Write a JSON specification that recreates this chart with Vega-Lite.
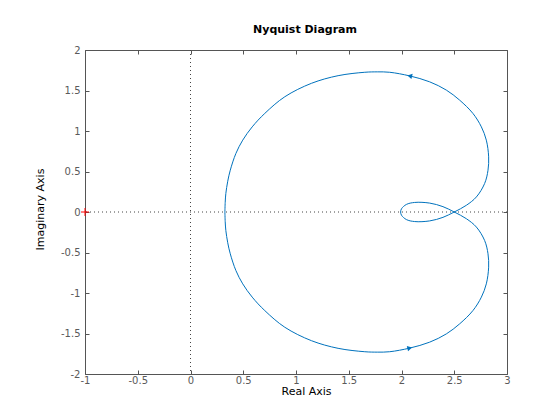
{
  "$schema": "https://vega.github.io/schema/vega-lite/v6.json",
  "width": 422,
  "height": 324,
  "autosize": "none",
  "padding": {"left": 85, "top": 50, "right": 53, "bottom": 46},
  "background": "white",
  "title": {"text": "Nyquist Diagram", "font": "DejaVu Sans", "fontSize": 11, "fontWeight": "bold", "color": "#000", "anchor": "middle", "dx": 9, "offset": 10},
  "datasets": {
    "curve": [
      {"i":0,"x":0.326,"y":0.0},{"i":1,"x":0.329,"y":0.12},{"i":2,"x":0.335,"y":0.228},{"i":3,"x":0.353,"y":0.38},{"i":4,"x":0.377,"y":0.516},
      {"i":5,"x":0.43,"y":0.722},{"i":6,"x":0.495,"y":0.887},{"i":7,"x":0.585,"y":1.051},{"i":8,"x":0.704,"y":1.217},{"i":9,"x":0.894,"y":1.423},
      {"i":10,"x":1.147,"y":1.589},{"i":11,"x":1.399,"y":1.683},{"i":12,"x":1.652,"y":1.725},{"i":13,"x":1.77,"y":1.73},{"i":14,"x":1.888,"y":1.725},
      {"i":15,"x":2.078,"y":1.68},{"i":16,"x":2.267,"y":1.607},{"i":17,"x":2.425,"y":1.505},{"i":18,"x":2.551,"y":1.381},{"i":19,"x":2.677,"y":1.217},
      {"i":20,"x":2.757,"y":1.051},{"i":21,"x":2.804,"y":0.887},{"i":22,"x":2.826,"y":0.681},{"i":23,"x":2.82,"y":0.516},{"i":24,"x":2.788,"y":0.352},
      {"i":25,"x":2.71,"y":0.186},{"i":26,"x":2.615,"y":0.083},{"i":27,"x":2.5,"y":0.0},{"i":28,"x":2.393,"y":-0.066},{"i":29,"x":2.267,"y":-0.11},
      {"i":30,"x":2.125,"y":-0.118},{"i":31,"x":2.046,"y":-0.093},{"i":32,"x":2.0,"y":-0.04},{"i":33,"x":1.992,"y":0.0},
      {"i":34,"x":2.0,"y":0.04},{"i":35,"x":2.046,"y":0.093},{"i":36,"x":2.125,"y":0.118},{"i":37,"x":2.267,"y":0.11},{"i":38,"x":2.393,"y":0.066},
      {"i":39,"x":2.5,"y":0.0},{"i":40,"x":2.615,"y":-0.083},{"i":41,"x":2.71,"y":-0.186},{"i":42,"x":2.788,"y":-0.352},{"i":43,"x":2.82,"y":-0.516},
      {"i":44,"x":2.826,"y":-0.681},{"i":45,"x":2.804,"y":-0.887},{"i":46,"x":2.757,"y":-1.051},{"i":47,"x":2.677,"y":-1.217},{"i":48,"x":2.551,"y":-1.381},
      {"i":49,"x":2.425,"y":-1.505},{"i":50,"x":2.267,"y":-1.607},{"i":51,"x":2.078,"y":-1.68},{"i":52,"x":1.888,"y":-1.725},{"i":53,"x":1.77,"y":-1.73},
      {"i":54,"x":1.652,"y":-1.725},{"i":55,"x":1.399,"y":-1.683},{"i":56,"x":1.147,"y":-1.589},{"i":57,"x":0.894,"y":-1.423},{"i":58,"x":0.704,"y":-1.217},
      {"i":59,"x":0.585,"y":-1.051},{"i":60,"x":0.495,"y":-0.887},{"i":61,"x":0.43,"y":-0.722},{"i":62,"x":0.377,"y":-0.516},{"i":63,"x":0.353,"y":-0.38},
      {"i":64,"x":0.335,"y":-0.228},{"i":65,"x":0.329,"y":-0.12},{"i":66,"x":0.326,"y":0.0}
    ],
    "arrows": [
      {"branch":"upper","x":2.078,"y":1.68},
      {"branch":"lower","x":2.078,"y":-1.68}
    ],
    "critical": [{"x":-1,"y":0}],
    "zero": [{"v":0}]
  },
  "config": {
    "view": {"stroke": null},
    "axis": {
      "grid": false,
      "labelFont": "DejaVu Sans",
      "labelFontSize": 10,
      "labelColor": "#5a5a5a",
      "labelFlush": false,
      "domainColor": "#555555",
      "domainWidth": 1,
      "tickColor": "#555555",
      "tickSize": -4,
      "titleFont": "DejaVu Sans",
      "titleFontSize": 11,
      "titleFontWeight": "normal",
      "titleColor": "#000000"
    }
  },
  "resolve": {"axis": {"x": "independent", "y": "independent"}},
  "layer": [
    {
      "data": {"name": "zero"},
      "mark": {"type": "rule", "color": "#444444", "strokeWidth": 1, "strokeDash": [1, 3]},
      "encoding": {"x": {"field": "v", "type": "quantitative", "scale": {"domain": [-1, 3], "nice": false, "zero": false}, "axis": null}}
    },
    {
      "data": {"name": "zero"},
      "mark": {"type": "rule", "color": "#444444", "strokeWidth": 1, "strokeDash": [1, 3]},
      "encoding": {"y": {"field": "v", "type": "quantitative", "scale": {"domain": [-2, 2], "nice": false, "zero": false}, "axis": null}}
    },
    {
      "data": {"name": "curve"},
      "mark": {"type": "line", "color": "#0072BD", "strokeWidth": 1, "interpolate": "catmull-rom", "clip": true},
      "encoding": {
        "x": {"field": "x", "type": "quantitative", "scale": {"domain": [-1, 3], "nice": false, "zero": false},
              "axis": {"orient": "bottom", "values": [-1, -0.5, 0, 0.5, 1, 1.5, 2, 2.5, 3], "labelExpr": "datum.value + ''", "labelPadding": 5, "title": "Real Axis", "titleX": 221, "titleY": 17, "titleBaseline": "middle", "titleAlign": "center"}},
        "y": {"field": "y", "type": "quantitative", "scale": {"domain": [-2, 2], "nice": false, "zero": false},
              "axis": {"orient": "left", "values": [-2, -1.5, -1, -0.5, 0, 0.5, 1, 1.5, 2], "labelExpr": "datum.value + ''", "labelPadding": 9, "title": "Imaginary Axis", "titleX": -45, "titleY": 159, "titleAngle": 270, "titleBaseline": "middle", "titleAlign": "center"}},
        "order": {"field": "i", "type": "quantitative"}
      }
    },
    {
      "data": {"name": "arrows"},
      "transform": [{"filter": "datum.branch == 'upper'"}],
      "mark": {"type": "point", "shape": "triangle-left", "angle": 13, "size": 30, "filled": true, "color": "#0072BD", "opacity": 1},
      "encoding": {
        "x": {"field": "x", "type": "quantitative", "axis": null},
        "y": {"field": "y", "type": "quantitative", "axis": null}
      }
    },
    {
      "data": {"name": "arrows"},
      "transform": [{"filter": "datum.branch == 'lower'"}],
      "mark": {"type": "point", "shape": "triangle-right", "angle": 347, "size": 30, "filled": true, "color": "#0072BD", "opacity": 1},
      "encoding": {
        "x": {"field": "x", "type": "quantitative", "axis": null},
        "y": {"field": "y", "type": "quantitative", "axis": null}
      }
    },
    {
      "data": {"name": "critical"},
      "mark": {"type": "point", "shape": "M-1,0L1,0M0,-1L0,1", "size": 64, "filled": false, "color": "#ff0000", "strokeWidth": 1, "opacity": 1},
      "encoding": {
        "x": {"field": "x", "type": "quantitative", "axis": {"orient": "top", "values": [-1, -0.5, 0, 0.5, 1, 1.5, 2, 2.5, 3], "labels": false, "title": null}},
        "y": {"field": "y", "type": "quantitative", "axis": {"orient": "right", "values": [-2, -1.5, -1, -0.5, 0, 0.5, 1, 1.5, 2], "labels": false, "title": null}}
      }
    }
  ]
}
